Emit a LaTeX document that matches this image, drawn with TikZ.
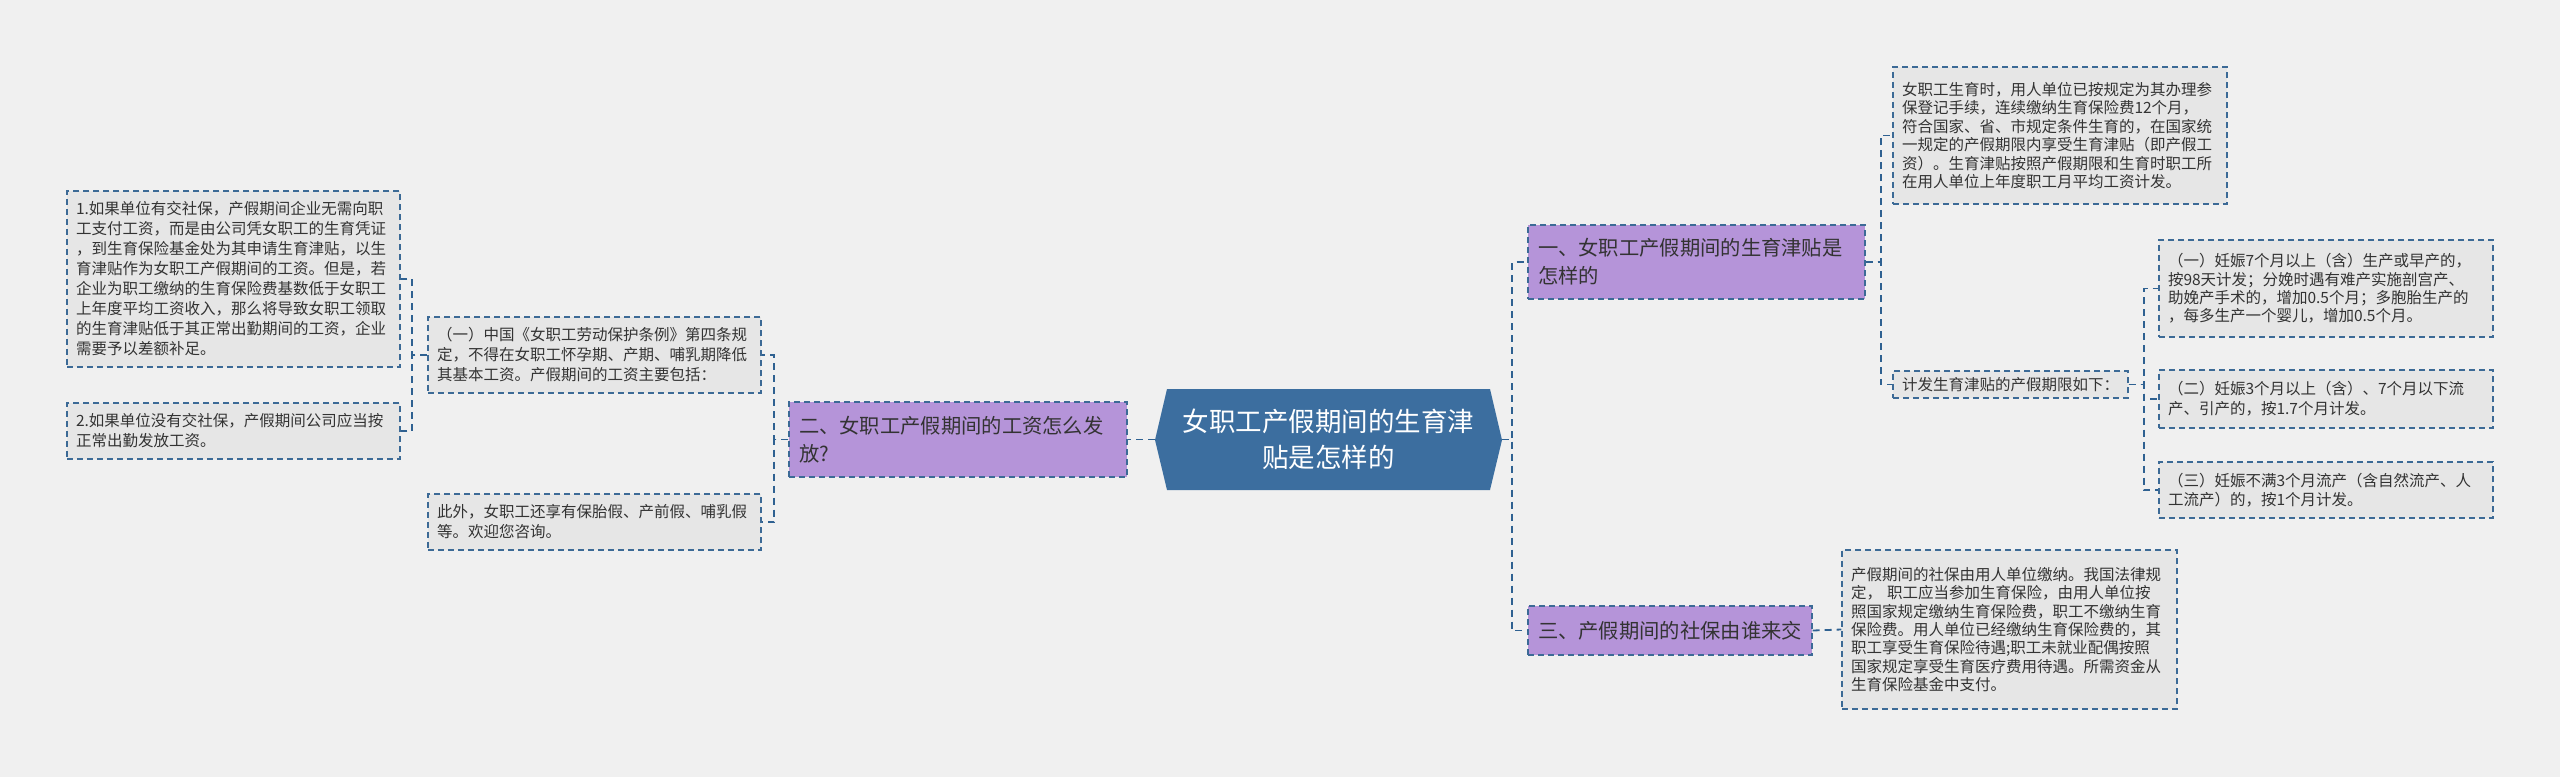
\documentclass[tikz,border=0pt]{standalone}
\usepackage{fontspec}
\setmainfont{Noto Sans CJK SC}
\usetikzlibrary{calc}
\definecolor{bg}{HTML}{F0F0F0}
\definecolor{gfill}{HTML}{E6E6E6}
\definecolor{lnc}{HTML}{2F6191}
\definecolor{bdc}{HTML}{3C6A96}
\definecolor{pur}{HTML}{B594D9}
\definecolor{hexc}{HTML}{3C6E9F}
\definecolor{txt}{HTML}{333333}
\begin{document}
\begin{tikzpicture}[x=1pt,y=-1pt,
  gbox/.style={draw=bdc, fill=gfill, line width=1.3pt, dash pattern=on 6pt off 4pt,
    inner xsep=9pt, inner ysep=0pt, align=left, text=txt, font=\fontsize{15.5}{20}\selectfont},
  gboxs/.style={gbox, font=\fontsize{15.5}{18.4}\selectfont},
  pbox/.style={draw=bdc, fill=pur, line width=1.3pt, dash pattern=on 6pt off 4pt,
    inner xsep=10pt, inner ysep=0pt, align=left, text=txt, font=\fontsize{20.3}{28}\selectfont},
  conn/.style={draw=lnc, line width=1.8pt, dash pattern=on 7pt off 5pt}]
\useasboundingbox (0,0) rectangle (2560,777);
\fill[bg] (0,0) rectangle (2560,777);

% central hexagon
\fill[hexc] (1155,440) -- (1167,389) -- (1490,389) -- (1502,440) -- (1490,490) -- (1167,490) -- cycle;
\node[minimum width=347pt, minimum height=101pt, inner sep=0pt, text=white, align=center,
  font=\fontsize{26.5}{36}\selectfont] (c) at (1328.5,439.5) {女职工产假期间的生育津\\贴是怎样的};

% left side
\node[pbox, minimum width=338pt, minimum height=75pt, text width=318pt] (n2) at (958,439.5)
  {二、女职工产假期间的工资怎么发\\放?};
\node[gbox, minimum width=333pt, minimum height=76pt, text width=315pt] (l1) at (594.5,355)
  {（一）中国《女职工劳动保护条例》第四条规\\定，不得在女职工怀孕期、产期、哺乳期降低\\其基本工资。产假期间的工资主要包括：};
\node[gbox, minimum width=333pt, minimum height=56pt, text width=315pt] (l2) at (594.5,522)
  {此外，女职工还享有保胎假、产前假、哺乳假\\等。欢迎您咨询。};
\node[gbox, minimum width=333pt, minimum height=176pt, text width=315pt] (ll1) at (233.5,279)
  {1.如果单位有交社保，产假期间企业无需向职\\工支付工资，而是由公司凭女职工的生育凭证\\，到生育保险基金处为其申请生育津贴，以生\\育津贴作为女职工产假期间的工资。但是，若\\企业为职工缴纳的生育保险费基数低于女职工\\上年度平均工资收入，那么将导致女职工领取\\的生育津贴低于其正常出勤期间的工资，企业\\需要予以差额补足。};
\node[gbox, minimum width=333pt, minimum height=56pt, text width=315pt] (ll2) at (233.5,431)
  {2.如果单位没有交社保，产假期间公司应当按\\正常出勤发放工资。};

% right side
\node[pbox, minimum width=337pt, minimum height=74pt, text width=317pt] (n1) at (1696.5,262)
  {一、女职工产假期间的生育津贴是\\怎样的};
\node[pbox, minimum width=284pt, minimum height=49pt, text width=264pt] (n3) at (1670,630.5)
  {三、产假期间的社保由谁来交};
\node[gboxs, minimum width=334pt, minimum height=137pt, text width=316pt] (r1) at (2060,135.5)
  {女职工生育时，用人单位已按规定为其办理参\\保登记手续，连续缴纳生育保险费12个月，\\符合国家、省、市规定条件生育的，在国家统\\一规定的产假期限内享受生育津贴（即产假工\\资）。生育津贴按照产假期限和生育时职工所\\在用人单位上年度职工月平均工资计发。};
\node[gboxs, minimum width=235pt, minimum height=27pt, text width=217pt] (r2) at (2010.5,384.5)
  {计发生育津贴的产假期限如下：};
\node[gboxs, minimum width=334pt, minimum height=97pt, text width=316pt] (r21) at (2326,288.5)
  {（一）妊娠7个月以上（含）生产或早产的，\\按98天计发；分娩时遇有难产实施剖宫产、\\助娩产手术的，增加0.5个月；多胞胎生产的\\，每多生产一个婴儿，增加0.5个月。};
\node[gbox, minimum width=334pt, minimum height=58pt, text width=316pt] (r22) at (2326,399)
  {（二）妊娠3个月以上（含）、7个月以下流\\产、引产的，按1.7个月计发。};
\node[gboxs, minimum width=334pt, minimum height=56pt, text width=316pt] (r23) at (2326,490)
  {（三）妊娠不满3个月流产（含自然流产、人\\工流产）的，按1个月计发。};
\node[gboxs, minimum width=335pt, minimum height=159pt, text width=317pt] (r3) at (2009.5,629.5)
  {产假期间的社保由用人单位缴纳。我国法律规\\定， 职工应当参加生育保险，由用人单位按\\照国家规定缴纳生育保险费，职工不缴纳生育\\保险费。用人单位已经缴纳生育保险费的，其\\职工享受生育保险待遇;职工未就业配偶按照\\国家规定享受生育医疗费用待遇。所需资金从\\生育保险基金中支付。};

% connectors
\draw[conn] (c.west) -- (n2.east);
\coordinate (b2) at ($(n2.west)+(-14,0)$);
\draw[conn] (n2.west) -- (b2) |- (l1.east);
\draw[conn] (n2.west) -- (b2) |- (l2.east);
\coordinate (b1) at ($(l1.west)+(-15,0)$);
\draw[conn] (l1.west) -- (b1) |- (ll1.east);
\draw[conn] (l1.west) -- (b1) |- (ll2.east);
\coordinate (bc) at ($(c.east)+(10,0)$);
\draw[conn] (c.east) -- (bc) |- (n1.west);
\draw[conn] (c.east) -- (bc) |- (n3.west);
\coordinate (bn1) at ($(n1.east)+(15,0)$);
\draw[conn] (n1.east) -- (bn1) |- (r1.west);
\draw[conn] (n1.east) -- (bn1) |- (r2.west);
\coordinate (br2) at ($(r2.east)+(15,0)$);
\draw[conn] (r2.east) -- (br2) |- (r21.west);
\draw[conn] (r2.east) -- (br2) |- (r22.west);
\draw[conn] (r2.east) -- (br2) |- (r23.west);
\draw[conn] (n3.east) -- (r3.west);
\end{tikzpicture}
\end{document}
